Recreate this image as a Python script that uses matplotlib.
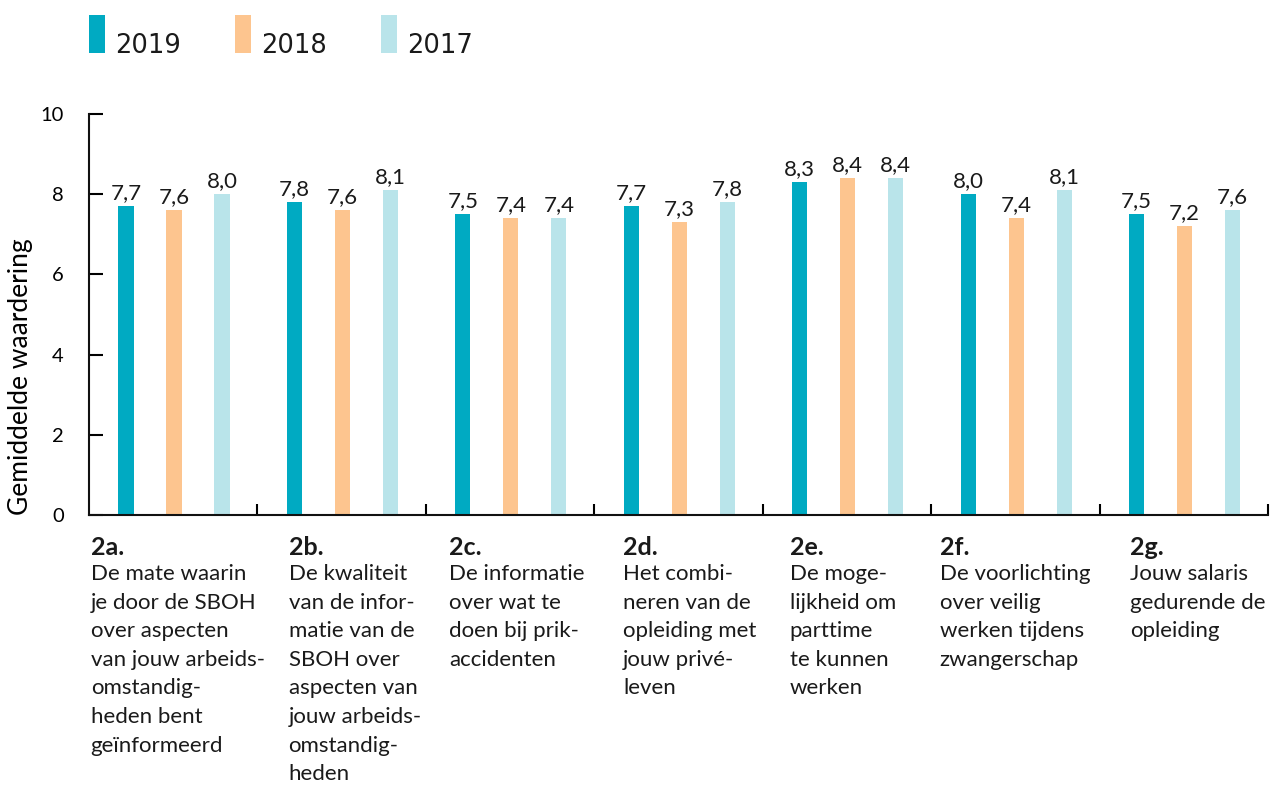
import numpy as np
import matplotlib.pyplot as plt
from matplotlib.patches import Rectangle

plt.rcParams.update({
    'font.family': ['Lato', 'DejaVu Sans'],
    'text.color': '#1A1A1A',
    'axes.edgecolor': '#111111',
    'axes.linewidth': 1.5,
})

codes = ["2a.", "2b.", "2c.", "2d.", "2e.", "2f.", "2g."]
descriptions = [
    "De mate waarin\nje door de SBOH\nover aspecten\nvan jouw arbeids-\nomstandig-\nheden bent\ngeïnformeerd",
    "De kwaliteit\nvan de infor-\nmatie van de\nSBOH over\naspecten van\njouw arbeids-\nomstandig-\nheden",
    "De informatie\nover wat te\ndoen bij prik-\naccidenten",
    "Het combi-\nneren van de\nopleiding met\njouw privé-\nleven",
    "De moge-\nlijkheid om\nparttime\nte kunnen\nwerken",
    "De voorlichting\nover veilig\nwerken tijdens\nzwangerschap",
    "Jouw salaris\ngedurende de\nopleiding",
]
years = ["2019", "2018", "2017"]
scores_2019 = [7.7, 7.8, 7.5, 7.7, 8.3, 8.0, 7.5]
scores_2018 = [7.6, 7.6, 7.4, 7.3, 8.4, 7.4, 7.2]
scores_2017 = [8.0, 8.1, 7.4, 7.8, 8.4, 8.1, 7.6]

colors = ['#00AAC2', '#FDC58F', '#B9E4EA']
# left indent of each category label inside its group (group units)
label_indent = [0.01, 0.185, 0.14, 0.17, 0.16, 0.05, 0.18]

fig = plt.figure(figsize=(12.71, 7.85), dpi=100)
ax = fig.add_axes([0.070, 0.344, 0.9276, 0.511])

n = len(codes)
x = np.arange(n) + 0.505
offsets = [-0.285, 0.0, 0.285]
width = 0.09
for series, off, col in zip([scores_2019, scores_2018, scores_2017], offsets, colors):
    bars = ax.bar(x + off, series, width=width, color=col, zorder=2)
    for b, v in zip(bars, series):
        ax.annotate(f"{v:.1f}".replace(".", ","), (b.get_x() + b.get_width() / 2, v),
                    xytext=(0, 5), textcoords='offset points',
                    ha='center', va='baseline', fontsize=16)

ax.set_xlim(0, n)
ax.set_ylim(0, 10)
ax.set_yticks(np.arange(0, 11, 2))
ax.set_xticks(np.arange(1, n + 1))
ax.set_xticklabels([])
ax.tick_params(axis='y', direction='in', length=10, width=1.5, pad=18, labelsize=14.5)
ax.tick_params(axis='x', direction='in', length=8, width=1.5)
ax.spines['top'].set_visible(False)
ax.spines['right'].set_visible(False)
ax.set_ylabel("Gemiddelde waardering", fontsize=19, loc='bottom')
ax.yaxis.set_label_coords(-0.0475, 0)

tr = ax.get_xaxis_transform()
for i, (code, desc) in enumerate(zip(codes, descriptions)):
    ax.text(i + label_indent[i], -0.080, code, transform=tr, ha='left', va='center',
            fontsize=18, fontweight='bold')
    ax.text(i + label_indent[i], -0.122, desc, transform=tr, ha='left', va='top',
            fontsize=16, linespacing=1.54)

# legend at top
for j, (yr, col) in enumerate(zip(years, colors)):
    x0 = (89 + 146 * j) / 1271
    fig.add_artist(Rectangle((x0, 1 - 53 / 785), 16 / 1271, 38 / 785,
                             transform=fig.transFigure, color=col, lw=0))
    fig.text(x0 + 26 / 1271, 1 - 53 / 785, yr, fontsize=18.5, ha='left', va='baseline',
             family='DejaVu Sans')

fig.savefig("out.png", dpi=100)
